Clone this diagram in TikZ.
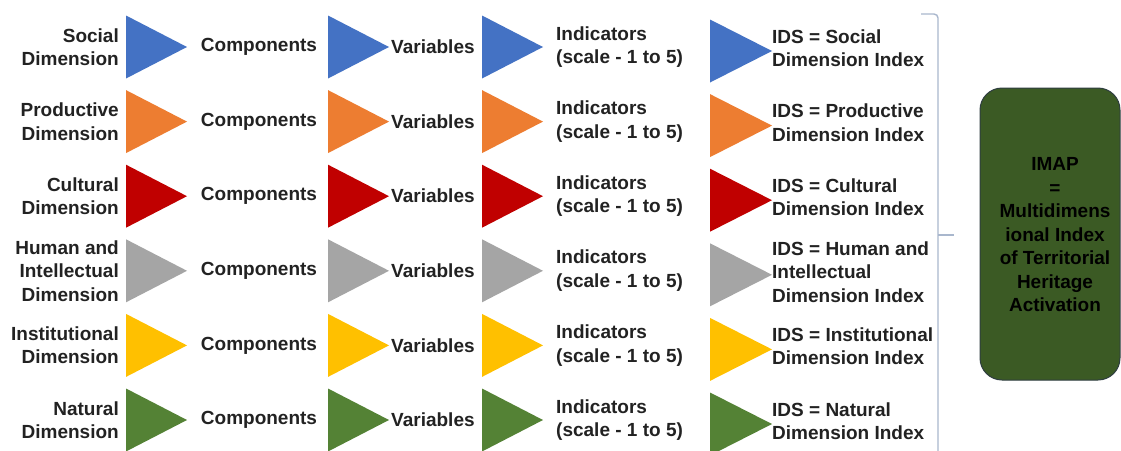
\documentclass[tikz,border=0pt]{standalone}
\usepackage{fontspec}
\setmainfont{Liberation Sans}
\begin{document}
\begin{tikzpicture}[x=1pt,y=-1pt,
  lbl/.style={font=\fontsize{19}{23.5}\selectfont\bfseries, text=txt, inner sep=0pt},
  lblr/.style={lbl, align=right, anchor=east},
  lblc/.style={lbl, align=center, anchor=center},
  lbll/.style={lbl, align=left, anchor=west},
  bracketline/.style={draw=brk, line width=1.4pt, rounded corners=4pt},
  imapbox/.style={draw=boxedge, line width=1pt, fill=boxfill, rounded corners=22pt}]
\definecolor{txt}{HTML}{222222}
\definecolor{cblue}{HTML}{4472C4}
\definecolor{corange}{HTML}{ED7D31}
\definecolor{cred}{HTML}{C00000}
\definecolor{cgray}{HTML}{A5A5A5}
\definecolor{cyellow}{HTML}{FFC000}
\definecolor{cgreen}{HTML}{548235}
\definecolor{brk}{HTML}{A9B7CD}
\definecolor{boxfill}{HTML}{3B5A24}
\definecolor{boxedge}{HTML}{2E3D40}
\useasboundingbox (0,0) rectangle (1121,450);
\fill[white] (0,0) rectangle (1121,450);
\foreach \i/\lab/\col/\ids in {
  0/{Social\\Dimension}/cblue/{IDS = Social\\Dimension Index},
  1/{Productive\\Dimension}/corange/{IDS = Productive\\Dimension Index},
  2/{Cultural\\Dimension}/cred/{IDS = Cultural\\Dimension Index},
  3/{Human and\\Intellectual\\Dimension}/cgray/{IDS = Human and\\Intellectual\\Dimension Index},
  4/{Institutional\\Dimension}/cyellow/{IDS = Institutional\\Dimension Index},
  5/{Natural\\Dimension}/cgreen/{IDS = Natural\\Dimension Index}}{
  \pgfmathsetmacro\y{47+74.6*\i}
  \pgfmathsetmacro\yy{\y+4}
  \foreach \xl in {126,328,482}{
    \fill[\col] (\xl,{\y-31.5}) -- ({\xl+61},\y) -- (\xl,{\y+31.5}) -- cycle;
  }
  \fill[\col] (710,{\yy-31.5}) -- (772,\yy) -- (710,{\yy+31.5}) -- cycle;
  \node[lblr] (d\i) at (119,\y) {\lab};
  \node[lblc] (c\i) at (259,\y) {Components};
  \node[lbll] (v\i) at (391,\y) {Variables};
  \node[lbll] (n\i) at (556,\y) {Indicators\\(scale - 1 to 5)};
  \node[lbll] (s\i) at (772,{\y+1}) {\ids};
}
\draw[bracketline] (921,14) -- (938,14) -- (938,456);
\draw[draw=brk, line width=1.4pt] (938,235) -- (954,235);
\node[imapbox, minimum width=140pt, minimum height=292pt, inner sep=0pt] (imap) at (1050,234) {};
\node[lblc, text=black] (imaptxt) at (1055,235) {IMAP\\=\\Multidimens\\ional Index\\of Territorial\\Heritage\\Activation};
\end{tikzpicture}
\end{document}
